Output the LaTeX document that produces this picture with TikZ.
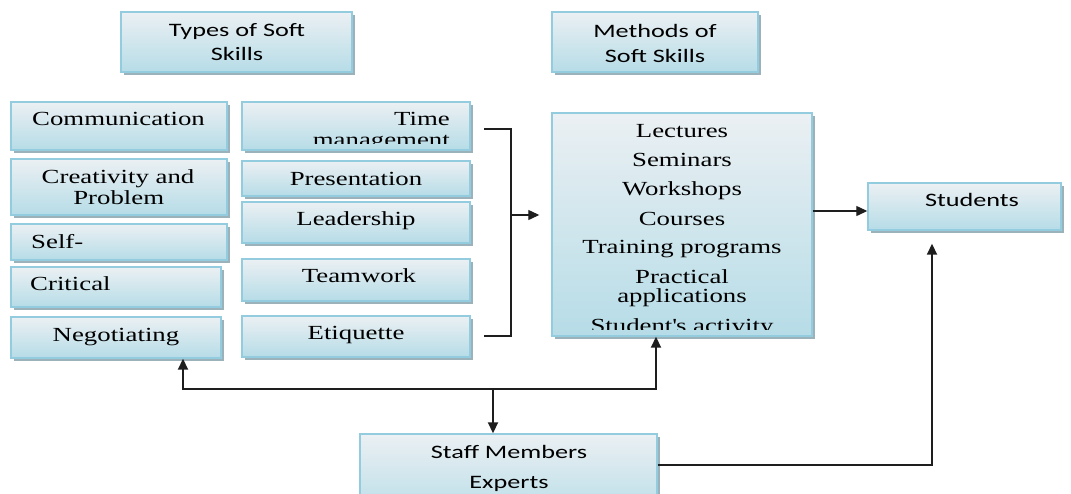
\documentclass[tikz,border=0pt]{standalone}
\usepackage{fontspec}
\setmainfont{Liberation Serif}[FakeStretch=1.34]
\newfontfamily\calfont{Carlito}[FakeStretch=1.38]
\usetikzlibrary{arrows.meta,shadows,calc}
\definecolor{boxtop}{HTML}{EBF0F3}
\definecolor{boxbot}{HTML}{B6DCE7}
\definecolor{boxborder}{HTML}{92CCDE}
\definecolor{shadowc}{HTML}{9CB2BB}
\definecolor{linec}{HTML}{1E1E1E}
\begin{document}
\begin{tikzpicture}[x=1pt,y=-1pt,
  box/.style={draw=boxborder, line width=1.4pt, top color=boxtop, bottom color=boxbot,
    inner sep=0pt, drop shadow={shadow xshift=3pt, shadow yshift=-3pt, fill=shadowc, opacity=1}},
  ser/.style={inner sep=0pt, anchor=base, font=\fontsize{20}{24}\selectfont},
  cal/.style={inner sep=0pt, anchor=base, font=\calfont\fontsize{19}{23}\selectfont},
  thinline/.style={line width=1.2pt, draw=linec},
  thickline/.style={line width=1.8pt, draw=linec},
  tip/.style={-{Triangle[length=11pt,width=10pt]}}
]
\clip (0,0) rectangle (1071,493);
\fill[white] (0,0) rectangle (1071,493);

% header boxes
\node[box, minimum width=231pt, minimum height=60pt] (types) at (236.5,42) {};
\node[box, minimum width=206pt, minimum height=60pt] (mhead) at (655,42) {};
\node[cal] (types1) at (237,36) {Types of Soft};
\node[cal] (types2) at (237,60) {Skills};
\node[cal] (mhead1) at (655,37) {Methods of};
\node[cal] (mhead2) at (655,62) {Soft Skills};

% left column
\node[box, minimum width=216pt, minimum height=48pt] (comm) at (119,126) {};
\node[box, minimum width=216pt, minimum height=56pt] (crea) at (119,187) {};
\node[box, minimum width=216pt, minimum height=36pt] (self) at (119,242) {};
\node[box, minimum width=210pt, minimum height=40pt] (crit) at (116,287) {};
\node[box, minimum width=210pt, minimum height=41pt] (nego) at (116,337.5) {};
\node[ser] (tcomm) at (118.5,125) {Communication};
\node[ser] (tcrea1) at (118,183) {Creativity and};
\node[ser] (tcrea2) at (118.7,204) {Problem};
\node[ser, anchor=base west] (tself) at (31,248) {Self-};
\node[ser, anchor=base west] (tcrit) at (30,290) {Critical};
\node[ser] (tnego) at (116,341) {Negotiating};

% middle column
\node[box, minimum width=228pt, minimum height=48pt] (time) at (356,126) {};
\node[box, minimum width=228pt, minimum height=35pt] (pres) at (356,178.5) {};
\node[box, minimum width=228pt, minimum height=41pt] (lead) at (356,222.5) {};
\node[box, minimum width=228pt, minimum height=42pt] (team) at (356,280) {};
\node[box, minimum width=228pt, minimum height=41pt] (etiq) at (356,336.5) {};
\node[ser, anchor=base east] (ttime1) at (450,125) {Time};
\begin{scope}
  \clip (242,102) rectangle (470,143);
  \node[ser, anchor=base east] (ttime2) at (450,146) {management};
\end{scope}
\node[ser] (tpres) at (356,185) {Presentation};
\node[ser] (tlead) at (356,225) {Leadership};
\node[ser] (tteam) at (359,282) {Teamwork};
\node[ser] (tetiq) at (356,339) {Etiquette};

% methods box
\node[box, minimum width=260pt, minimum height=223pt] (meth) at (682,224.5) {};
\node[ser] (m1) at (682,137) {Lectures};
\node[ser] (m2) at (682,166) {Seminars};
\node[ser] (m3) at (682,195) {Workshops};
\node[ser] (m4) at (682,225) {Courses};
\node[ser] (m5) at (682,253) {Training programs};
\node[ser] (m6) at (682,283) {Practical};
\node[ser] (m7) at (682,302) {applications};
\begin{scope}
  \clip (552,113) rectangle (812,329);
  \node[ser] (m8) at (682,332) {Student\textquotesingle s activity};
\end{scope}

% students
\node[box, minimum width=193pt, minimum height=47pt] (stud) at (964.5,206.5) {};
\node[cal] (tstud) at (972,206) {Students};

% staff
\node[box, minimum width=297pt, minimum height=86pt] (staff) at (508.5,477) {};
\node[cal] (tstaff1) at (509,458) {Staff Members};
\node[cal] (tstaff2) at (509,488) {Experts};

% bracket connector
\coordinate (bt) at (484,129);
\coordinate (bb) at (484,336);
\coordinate (bm) at (511,215);
\draw[thinline] (bt) -| (bm) |- (bb);
\draw[thinline, tip, shorten >=12pt] (bm) -- (meth.west |- bm);

% methods -> students
\draw[thinline, tip] ($(meth.east)+(0,-13.5)$) -- ($(stud.west)+(0,4.5)$);

% staff connectors
\coordinate (sp) at (493,389);
\draw[thickline, tip] (sp) -- (staff.north -| sp);
\draw[thickline, tip] (sp) -| ($(nego.south)+(67,0)$);
\draw[thickline, tip] (sp) -| ($(meth.south)+(-26,0)$);
\draw[thickline, tip, shorten >=13pt] ($(staff.east)+(0,-12)$) -| ($(stud.south)+(-32.5,0)$);
\end{tikzpicture}
\end{document}
